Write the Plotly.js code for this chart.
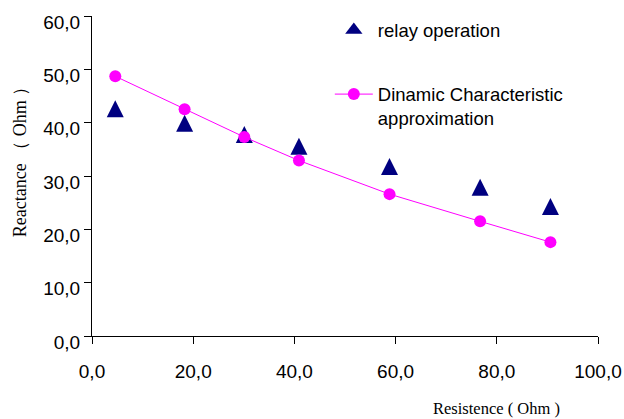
<!DOCTYPE html>
<html>
<head>
<meta charset="utf-8">
<script src="https://cdn.plot.ly/plotly-3.0.1.min.js"></script>
<style>html,body{margin:0;padding:0;background:#fff;}#chart{width:624px;height:419px;}</style>
</head>
<body>
<div id="chart"></div>
<script>
var resistanceRelay = [4.6, 18.3, 30.1, 40.9, 58.8, 76.7, 90.6];
var reactanceRelay  = [42.6, 39.9, 37.8, 35.6, 31.8, 27.9, 24.3];
var resistanceApprox = [4.6, 18.3, 30.1, 40.9, 58.8, 76.7, 90.6];
var reactanceApprox  = [48.7, 42.5, 37.3, 32.9, 26.6, 21.5, 17.6];
var xTicks = [0, 20, 40, 60, 80, 100];
var yTicks = [0, 10, 20, 30, 40, 50, 60];
var seriesNames = ['relay operation', 'Dinamic Characteristic<br>approximation'];

var sans = 'Liberation Sans, Arial, sans-serif';
var serif = 'Liberation Serif, Times New Roman, serif';

var traces = [
  {
    x: resistanceRelay, y: reactanceRelay, name: seriesNames[0],
    type: 'scatter', mode: 'markers', legendgroup: 'a', showlegend: false,
    marker: {symbol: 'arrow-down', angle: 180, standoff: 8.5, size: 17, color: '#000080', line: {width: 0}}
  },
  {
    // legend entry for the relay series (same styling, drawn only in the legend)
    x: [null], y: [null], name: seriesNames[0],
    type: 'scatter', mode: 'markers', legendgroup: 'a', showlegend: true,
    marker: {symbol: 'triangle-up', size: 15, color: '#000080', line: {width: 0}}
  },
  {
    x: resistanceApprox, y: reactanceApprox, name: seriesNames[1],
    type: 'scatter', mode: 'lines+markers', legendgroup: 'b',
    line: {color: '#FF00FF', width: 1},
    marker: {symbol: 'circle', size: 12, color: '#FF00FF'}
  }
];

var layout = {
  width: 624, height: 419,
  margin: {l: 92, r: 26, t: 16, b: 83, autoexpand: false},
  paper_bgcolor: '#fff', plot_bgcolor: '#fff',
  separators: ', ',
  font: {family: sans, size: 18, color: '#000'},
  showlegend: true,
  legend: {
    x: 0.47, y: 1.014, xanchor: 'left', yanchor: 'top',
    traceorder: 'grouped', tracegroupgap: 37, valign: 'top', itemwidth: 38,
    bgcolor: 'rgba(0,0,0,0)', font: {family: sans, size: 18.5}
  },
  xaxis: {
    range: [0, 100], tickvals: xTicks, tickformat: '.1f',
    showgrid: false, zeroline: false, showline: true, linecolor: '#000', linewidth: 1,
    ticks: 'outside', ticklen: 7, tickcolor: '#000',
    ticklabelstandoff: 11,
    tickfont: {family: sans, size: 19}
  },
  yaxis: {
    range: [0, 60], tickvals: yTicks, tickformat: '.1f',
    showgrid: false, zeroline: false, showline: true, linecolor: '#000', linewidth: 1,
    ticks: 'outside', ticklen: 7, tickcolor: '#000',
    ticklabelshift: 6,
    tickfont: {family: sans, size: 19}
  },
  annotations: [
    {text: 'Resistence ( Ohm )', xref: 'paper', yref: 'paper', x: 0.80, y: -0.225,
     xanchor: 'center', yanchor: 'middle', showarrow: false, font: {family: serif, size: 16.5}},
    {text: 'Reactance （ Ohm ）', xref: 'paper', yref: 'paper', x: -0.142, y: 0.556,
     xanchor: 'center', yanchor: 'middle', textangle: -90, showarrow: false, font: {family: serif, size: 18}}
  ]
};

Plotly.newPlot('chart', traces, layout, {displayModeBar: false, staticPlot: true});
</script>
</body>
</html>
